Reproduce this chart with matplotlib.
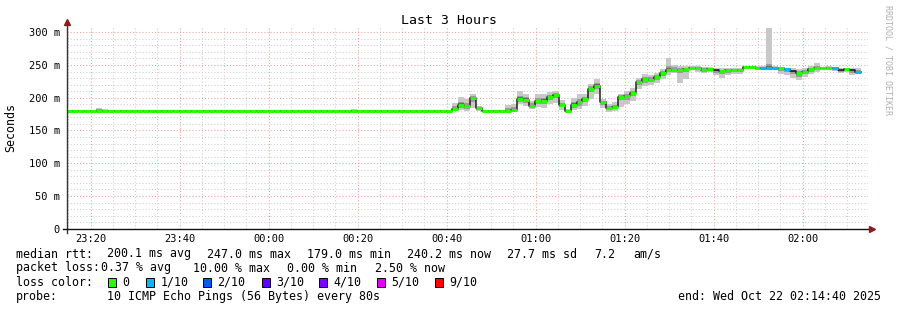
"""SmokePing style latency graph: last 3 hours, median rtt with smoke and loss colours."""

import numpy as np
import matplotlib
matplotlib.use('Agg')
import matplotlib.pyplot as plt
import matplotlib.dates as mdates
from matplotlib.patches import Rectangle


# ---- data (ms, one value per 80 s step) ----
START = np.datetime64('2025-10-21T23:14:30')
STEP_S = 80

median_ms = ([180] * 62 + [179, 179, 179,
             183, 189, 187, 199, 184, 180, 180, 180, 179, 180,
             181, 198, 197, 188, 195, 195, 201, 204, 189, 180,
             189, 193, 198, 214, 218, 193, 184, 186, 201, 202,
             207, 224, 228, 227, 232, 237, 243, 243, 243, 244,
             246, 246, 243, 244, 242, 241, 242, 243, 243, 247,
             247, 246, 246, 246, 246, 245, 244, 241, 237, 240,
             244, 245, 245, 246, 245, 242, 244, 242, 240])

smoke_lo = ([179] * 62 + [178, 178, 178,
            180, 181, 180, 184, 180, 179, 179, 179, 178, 178,
            178, 190, 188, 183, 186, 185, 190, 192, 182, 178,
            181, 183, 188, 198, 205, 185, 178, 180, 186, 190,
            195, 213, 218, 220, 222, 228, 235, 238, 222, 228,
            243, 240, 238, 240, 234, 230, 234, 236, 236, 244,
            245, 243, 243, 242, 243, 236, 234, 230, 227, 232,
            236, 240, 243, 243, 241, 238, 239, 235, 236])

smoke_hi = ([181] * 5 + [185, 183] + [181] * 41 + [183] + [181] * 10 + [182] + [181] * 2
            + [180, 180, 180,
               192, 201, 198, 205, 188, 182, 181, 181, 180, 189,
               190, 210, 206, 195, 205, 206, 208, 211, 196, 183,
               200, 205, 205, 221, 228, 198, 190, 193, 206, 210,
               215, 230, 236, 235, 238, 244, 260, 250, 248, 248,
               248, 248, 247, 247, 246, 245, 246, 246, 246, 249,
               249, 248, 248, 306, 248, 247, 246, 245, 244, 246,
               248, 253, 247, 248, 247, 245, 246, 245, 245])

# lost pings out of 10 per step; None = no loss colour drawn
loss = [0] * 134
for k in (117, 118, 119, 121, 129, 133):
    loss[k] = 1
for k in (109, 122, 130, 132):
    loss[k] = None

LOSS_COLORS = {0: '#26ff00', 1: '#00b8ff', 2: '#0059ff', 3: '#5e00ff',
               4: '#7e00ff', 5: '#dd00ff', 9: '#ff0000'}
LOSS_LABELS = ['0', '1/10', '2/10', '3/10', '4/10', '5/10', '9/10']
LOSS_KEYS = [0, 1, 2, 3, 4, 5, 9]

Y_TICKS = [0, 50, 100, 150, 200, 250, 300]
Y_TICK_LABELS = ['0', '50 m', '100 m', '150 m', '200 m', '250 m', '300 m']

RTT_STATS = ['200.1 ms avg', '247.0 ms max', '179.0 ms min', '240.2 ms now', '27.7 ms sd', '7.2', 'am/s']
LOSS_STATS = ['0.37 % avg', '10.00 % max', '0.00 % min', '2.50 % now']

W, H = 897, 310
MONO = 'DejaVu Sans Mono'


def fx(px):
    return px / W


def fy(py):
    return 1 - py / H


med = np.array(median_ms, dtype=float)
lo = np.array(smoke_lo, dtype=float)
hi = np.array(smoke_hi, dtype=float)
n = len(med)
edges = START + np.arange(n + 1) * np.timedelta64(STEP_S, 's')
width = STEP_S / 86400.0

fig = plt.figure(figsize=(W / 100, H / 100), dpi=100)
fig.patch.set_facecolor('white')
ax = fig.add_axes([fx(67), fy(228.7), fx(801), 201.7 / H])

# grid
ax.set_axisbelow(True)
ax.set_ylim(0, 308)
ax.set_xlim(np.datetime64('2025-10-21T23:14:40'), np.datetime64('2025-10-22T02:14:40'))
ax.set_yticks(Y_TICKS, Y_TICK_LABELS)
ax.set_yticks(np.arange(10, 310, 10), minor=True)
ax.xaxis.set_major_locator(mdates.MinuteLocator(byminute=[0, 20, 40]))
ax.xaxis.set_minor_locator(mdates.MinuteLocator(byminute=range(0, 60, 5)))
ax.xaxis.set_major_formatter(mdates.DateFormatter('%H:%M'))
ax.grid(True, which='minor', color='#cfcfcf', lw=0.75, ls=(0, (1, 2)))
ax.grid(True, which='major', color='#eba0a0', lw=0.75, ls=(0, (1, 2)))
ax.tick_params(which='both', length=0)
ax.tick_params(axis='y', pad=5, labelsize=7.5)
ax.tick_params(axis='x', pad=3.5, labelsize=7.5)
for lab in ax.get_xticklabels() + ax.get_yticklabels():
    lab.set_fontfamily(MONO)
for s in ax.spines.values():
    s.set_visible(False)

# smoke: outer band, then darker bands near the median
ax.bar(edges[:-1], hi - lo, width=width, bottom=lo, align='edge', color='#c8c8c8', lw=0, zorder=2)
for frac, cap, col in ((0.5, 5.0, '#9c9c9c'), (0.22, 2.5, '#666666')):
    b_lo = med - np.minimum((med - lo) * frac, cap)
    b_hi = med + np.minimum((hi - med) * frac, cap)
    ax.bar(edges[:-1], b_hi - b_lo, width=width, bottom=b_lo, align='edge', color=col, lw=0, zorder=2)

# median line, dark step line with loss coloured segments on top
ax.step(edges, np.append(med, med[-1]), where='post', color='#202020', lw=1.1, zorder=3)
for key in LOSS_KEYS:
    idx = [i for i, l in enumerate(loss) if l == key]
    if idx:
        ax.hlines(med[idx], edges[idx], edges[np.array(idx) + 1], colors=LOSS_COLORS[key],
                  lw=2.2, zorder=4)

# axes with arrows
ax.plot([0, 0], [-4 / 201.7, 1.02], transform=ax.transAxes, color='#333333', lw=1, clip_on=False, zorder=5)
ax.plot([-4 / 801, 1.003], [0, 0], transform=ax.transAxes, color='#111111', lw=1, clip_on=False, zorder=5)
ax.plot([0], [1.025], marker='^', ms=4, color='#8b1c1c', transform=ax.transAxes, clip_on=False, zorder=6)
ax.plot([1.0045], [0], marker='>', ms=4, color='#8b1c1c', transform=ax.transAxes, clip_on=False, zorder=6)

# titles
fig.text(0.5, fy(20), 'Last 3 Hours', ha='center', va='center', fontsize=9.5, family=MONO)
fig.text(fx(11), fy(127), 'Seconds', ha='center', va='center', rotation=90, fontsize=8.4, family=MONO)
fig.text(fx(887.5), fy(60), 'RRDTOOL / TOBI OETIKER', ha='center', va='center', rotation=270,
         fontsize=6, family=MONO, color='#b0b0b0')


# legend block, text placed on a shared baseline per row
def put(text, x, y):
    fig.text(fx(x), fy(y), text, ha='left', va='baseline', fontsize=8.4, family=MONO)


put('median rtt:', 16, 257.5)
for txt, x in zip(RTT_STATS, [107, 207, 307, 407, 507, 594, 633]):
    put(txt, x, 257.5)

put('packet loss:', 16, 271.5)
for txt, x in zip(LOSS_STATS, [101, 193, 287, 375]):
    put(txt, x, 271.5)

put('loss color:', 16, 285.5)
for key, lab, x in zip(LOSS_KEYS, LOSS_LABELS, [108, 146, 203, 262, 319, 377, 435]):
    fig.patches.append(Rectangle((fx(x), fy(286.5)), fx(8.3), 8.3 / H, transform=fig.transFigure,
                                 facecolor=LOSS_COLORS[key], edgecolor='black', lw=0.7))
    put(lab, x + 14.5, 285.5)

put('probe:', 16, 300)
put('10 ICMP Echo Pings (56 Bytes) every 80s', 107, 300)
put('end: Wed Oct 22 02:14:40 2025', 678, 300)

fig.savefig('out.png', dpi=100)
